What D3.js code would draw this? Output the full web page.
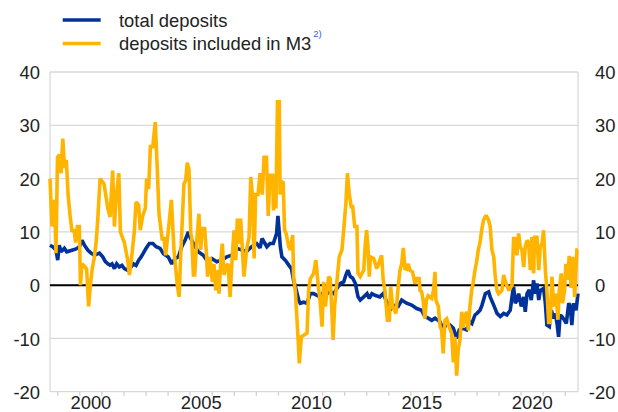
<!DOCTYPE html>
<html>
<head>
<meta charset="utf-8">
<script src="https://cdnjs.cloudflare.com/ajax/libs/d3/7.8.5/d3.min.js"></script>
<style>
  body { margin: 0; background: #fff; }
  svg { display: block; font-family: "Liberation Sans", Arial, sans-serif; }
</style>
</head>
<body>
<svg id="chart" width="618" height="412"></svg>
<script>
// annual growth rates, decimal year -> percent
var totalDeposits = [
  [1998.67,7.5],[1998.79,7.2],[1998.94,6.6],[1999.02,4.7],[1999.09,7.5],[1999.17,6.25],[1999.32,6.9],[1999.43,6.25],
  [1999.55,6.4],[1999.70,6.6],[1999.85,6.8],[2000.00,7.2],[2000.12,8.4],[2000.23,7.5],[2000.38,6.6],[2000.53,6],
  [2000.68,5.6],[2000.91,6],[2001.06,5.3],[2001.18,4.4],[2001.29,4],[2001.39,3.75],[2001.48,4],[2001.59,3.1],
  [2001.69,4],[2001.81,3.4],[2001.93,3.7],[2002.04,3.1],[2002.19,2.8],[2002.34,3.4],[2002.45,4],[2002.57,3.7],
  [2002.69,4.7],[2002.80,5.3],[2002.90,6],[2003.02,6.9],[2003.17,7.8],[2003.33,7.8],[2003.48,7.2],[2003.66,6.9],
  [2003.81,5.9],[2004.03,5.3],[2004.19,4],[2004.34,5],[2004.49,5.3],[2004.64,7.2],[2004.79,8.4],[2004.94,10],
  [2005.02,9],[2005.17,7.8],[2005.39,6.25],[2005.62,5.6],[2005.77,4.7],[2006.00,5],[2006.23,4.4],[2006.45,4.7],
  [2006.68,5.3],[2006.91,5.6],[2007.13,6.9],[2007.36,6.6],[2007.58,6.3],[2007.81,7.2],[2008.04,7.8],[2008.19,7],
  [2008.28,8.75],[2008.50,7.2],[2008.64,7.8],[2008.79,7.8],[2008.94,9.7],[2009.00,13],[2009.11,7.2],[2009.18,5.3],
  [2009.33,4.7],[2009.49,3.75],[2009.61,3.1],[2009.71,0.9],[2009.79,-0.3],[2009.94,-2.8],[2010.01,-3.4],[2010.17,-3.2],
  [2010.32,-3.4],[2010.47,-1.6],[2010.62,-1.6],[2010.77,-1.9],[2010.92,-2.2],[2011.07,-1.3],[2011.22,-1.6],[2011.37,-1.25],
  [2011.53,-1.6],[2011.68,-0.6],[2011.83,0.3],[2011.98,0.6],[2012.08,1.9],[2012.17,2.8],[2012.28,1.6],[2012.39,1.3],
  [2012.51,0.3],[2012.63,-2.2],[2012.73,-2.8],[2012.89,-2.2],[2013.04,-1.6],[2013.14,-2.5],[2013.26,-1.6],[2013.40,-1.9],
  [2013.62,-2.2],[2013.77,-1.6],[2013.93,-3.1],[2014.08,-4.7],[2014.23,-3.8],[2014.45,-4],[2014.61,-2.8],[2014.83,-3.4],
  [2015.06,-3.75],[2015.29,-4.4],[2015.51,-4.7],[2015.66,-5.9],[2015.81,-6.2],[2015.97,-6.6],[2016.12,-6.2],[2016.35,-6.9],
  [2016.49,-8.4],[2016.65,-7.2],[2016.80,-7.5],[2016.95,-8.1],[2017.10,-10],[2017.22,-8.4],[2017.40,-8.1],[2017.55,-8.4],
  [2017.70,-6.9],[2017.79,-7.2],[2017.93,-5.6],[2018.02,-5.3],[2018.16,-4.7],[2018.25,-3.75],[2018.40,-1.6],[2018.55,-1.25],
  [2018.62,-2.2],[2018.78,-3.75],[2018.93,-5.3],[2019.08,-5.9],[2019.23,-5.3],[2019.38,-5.6],[2019.53,-4.7],[2019.61,-2.2],
  [2019.68,-0.3],[2019.76,-3.4],[2019.83,-2.8],[2019.91,-1.6],[2020.03,-4],[2020.14,-2.2],[2020.21,-5],[2020.29,-1.6],
  [2020.39,-0.9],[2020.48,-2.8],[2020.59,0.9],[2020.66,-1.6],[2020.74,0.3],[2020.82,-2.8],[2020.89,-1],[2021.04,-0.6],
  [2021.12,-3.4],[2021.19,-7.5],[2021.30,-7.8],[2021.39,-4.7],[2021.50,-6.25],[2021.57,-5.3],[2021.65,-7.2],[2021.72,-9.7],
  [2021.79,-5.6],[2021.87,-5.9],[2021.99,-6.6],[2022.07,-7.2],[2022.18,-3.4],[2022.25,-4],[2022.32,-7.5],[2022.40,-3.4],
  [2022.51,-4.7],[2022.60,-1.6]
];

var depositsM3 = [
  [1998.67,20],[1998.76,11],[1998.88,16],[1998.94,6],[1999.01,24],[1999.10,24.5],[1999.17,21],[1999.25,27.5],
  [1999.33,22],[1999.41,23.5],[1999.49,17],[1999.58,13],[1999.67,10],[1999.76,10.5],[1999.83,8],[1999.91,11],
  [2000.00,11],[2000.05,0],[2000.12,4],[2000.24,3.5],[2000.33,3],[2000.42,-4],[2000.50,0],[2000.58,3],
  [2000.67,5],[2000.76,8],[2000.83,12],[2000.94,20],[2001.12,19],[2001.29,14.4],[2001.39,12.8],[2001.51,21.5],
  [2001.59,11],[2001.66,16],[2001.79,21],[2001.86,10],[2002.04,8],[2002.19,4.7],[2002.27,1.9],[2002.39,6],
  [2002.49,10],[2002.57,15.6],[2002.69,15],[2002.76,10.3],[2002.87,13],[2002.99,14.4],[2003.05,20],[2003.14,18],
  [2003.22,26],[2003.33,26],[2003.44,30.6],[2003.53,22],[2003.61,13.4],[2003.76,8.4],[2003.84,9],[2003.91,5.6],
  [2004.02,9.7],[2004.17,16],[2004.29,6.6],[2004.44,0],[2004.52,-2.2],[2004.59,5.3],[2004.74,19],[2004.82,19.7],
  [2004.89,23],[2004.97,21.6],[2005.05,9.7],[2005.09,9],[2005.17,1.9],[2005.23,1.9],[2005.32,8.4],[2005.42,13.4],
  [2005.50,6.6],[2005.57,10.6],[2005.68,10.6],[2005.77,5.3],[2005.81,1.6],[2005.92,5.3],[2006.03,0.6],[2006.10,4],
  [2006.18,-1],[2006.25,2.8],[2006.33,-1.6],[2006.41,4.7],[2006.48,7.8],[2006.56,1.9],[2006.63,3.4],[2006.74,4],
  [2006.83,-2.2],[2006.93,5.3],[2007.01,10.3],[2007.09,4.7],[2007.16,12.5],[2007.24,7.8],[2007.31,12.5],[2007.39,6.6],
  [2007.46,1.6],[2007.58,6.6],[2007.69,9],[2007.77,20.3],[2007.84,17],[2007.92,5],[2007.99,17],[2008.10,17],
  [2008.19,21],[2008.29,17],[2008.37,24],[2008.48,24],[2008.56,13],[2008.64,20.6],[2008.76,20.6],[2008.80,14],
  [2008.87,20.6],[2008.91,14.4],[2008.98,34.4],[2009.06,34.4],[2009.10,17],[2009.17,19.4],[2009.24,19.2],[2009.30,10.3],
  [2009.37,9.7],[2009.49,7.2],[2009.56,6.6],[2009.67,9.4],[2009.71,1.6],[2009.79,-1.2],[2009.91,-9.7],[2009.97,-14.7],
  [2010.06,-9.7],[2010.17,-9.4],[2010.32,-9],[2010.39,-1],[2010.47,1.2],[2010.62,2.2],[2010.72,4.7],[2010.82,0.3],
  [2010.92,-3.4],[2011.00,-7.8],[2011.07,0.6],[2011.15,-4],[2011.22,-1.2],[2011.30,1.6],[2011.37,1.2],[2011.45,-5.3],
  [2011.50,-10.3],[2011.57,-4],[2011.68,1],[2011.78,5.3],[2011.90,6.6],[2011.98,10.3],[2012.08,15.3],[2012.15,21],
  [2012.23,17.2],[2012.32,14.7],[2012.39,14.7],[2012.48,11],[2012.58,11],[2012.63,2.2],[2012.73,1.6],[2012.89,2.8],
  [2012.96,7.8],[2013.02,10.3],[2013.08,7.2],[2013.14,1.6],[2013.19,5.3],[2013.34,5],[2013.48,3.1],[2013.70,5.6],
  [2013.77,1],[2013.85,-1],[2013.96,-6.6],[2014.05,-6.6],[2014.11,-0.3],[2014.20,-4],[2014.35,-5.3],[2014.45,-0.3],
  [2014.53,2.8],[2014.61,4],[2014.68,7],[2014.76,3.1],[2014.83,3],[2014.91,4],[2014.98,2.8],[2015.10,2.5],
  [2015.21,0.3],[2015.29,1.25],[2015.40,1.25],[2015.44,-1],[2015.51,-1.2],[2015.58,-2.8],[2015.66,-6.3],[2015.73,-2.8],
  [2015.81,-2],[2015.97,-2.5],[2016.05,-1],[2016.12,2.5],[2016.16,-2.8],[2016.27,-4],[2016.35,-7.8],[2016.42,-8.4],
  [2016.49,-12.8],[2016.57,-6.6],[2016.65,-6.3],[2016.76,-7.8],[2016.87,-9],[2016.95,-14.5],[2017.02,-9.7],[2017.10,-17],
  [2017.17,-12.2],[2017.25,-10.3],[2017.33,-5],[2017.40,-8],[2017.47,-6],[2017.55,-5],[2017.63,-8.5],[2017.70,-4],
  [2017.78,-1],[2017.85,0.5],[2017.93,2.8],[2018.01,4.5],[2018.08,6.6],[2018.16,8],[2018.24,10.5],[2018.32,12.2],
  [2018.43,13.1],[2018.55,12.2],[2018.62,11],[2018.70,6.6],[2018.78,5.3],[2018.85,1.6],[2018.93,-1],[2019.00,-1.6],
  [2019.15,-1],[2019.23,1.9],[2019.30,0.8],[2019.46,-1],[2019.61,0],[2019.68,8.75],[2019.76,8.75],[2019.83,5.6],
  [2019.91,9.7],[2019.98,7.2],[2020.06,6.6],[2020.14,3.4],[2020.21,7.2],[2020.29,8.4],[2020.36,8],[2020.44,2.8],
  [2020.51,9],[2020.59,2.2],[2020.63,9],[2020.74,9],[2020.82,2.8],[2020.89,7.2],[2020.97,7.8],[2021.04,10.3],
  [2021.12,2.8],[2021.19,-1],[2021.27,-7],[2021.34,-7],[2021.42,1.6],[2021.50,-4],[2021.60,-1.6],[2021.69,-6.5],
  [2021.75,-1],[2021.84,2.2],[2021.90,-3.4],[2021.99,-1],[2022.05,4],[2022.14,1],[2022.20,5.5],[2022.29,-0.5],
  [2022.36,5.3],[2022.45,-2.2],[2022.55,6.6],[2022.60,6.6]
];

var yTicks = [-20, -10, 0, 10, 20, 30, 40];
var tickYears = d3.range(1999, 2023);
var labelYears = [2000, 2005, 2010, 2015, 2020];
var seriesNames = ["total deposits", "deposits included in M3"];
var seriesColors = ["#003299", "#ffb400"];
var footnote = "2)";

var svg = d3.select("#chart"),
  margin = { top: 72, right: 40, bottom: 20.3, left: 50 },
  width = +svg.attr("width") - margin.left - margin.right,
  height = +svg.attr("height") - margin.top - margin.bottom,
  g = svg.append("g").attr("transform", "translate(" + margin.left + "," + margin.top + ")");

var x = d3.scaleLinear()
  .domain([1998.67, 2022.6])
  .range([0, width]);

var y = d3.scaleLinear()
  .domain([-20, 40])
  .range([height, 0]);

// plain hyphen for negatives, like the original
var fmt = d => String(d);

// grid + frame
g.selectAll(".grid")
  .data(yTicks)
  .enter().append("line")
    .attr("x1", 0)
    .attr("x2", width)
    .attr("y1", d => y(d))
    .attr("y2", d => y(d))
    .attr("stroke", "#d9d9d9")
    .attr("stroke-width", 1.3);

g.selectAll(".frame")
  .data([0, width])
  .enter().append("line")
    .attr("x1", d => d)
    .attr("x2", d => d)
    .attr("y1", 0)
    .attr("y2", height)
    .attr("stroke", "#d9d9d9")
    .attr("stroke-width", 1.3);

var styleAxis = function(sel) {
  sel.select(".domain").remove();
  sel.selectAll("text")
    .attr("fill", "#222")
    .style("font-size", "18.4px")
    .style("font-family", "'Liberation Sans', Arial, sans-serif");
};

g.append("g")
  .call(d3.axisLeft(y).tickValues(yTicks).tickFormat(fmt).tickSize(0).tickPadding(10))
  .call(styleAxis)
  .selectAll("text").attr("dy", "0.36em");

// right labels: digits line up, minus sign hangs to the left
g.append("g")
  .attr("transform", "translate(" + width + ",0)")
  .call(d3.axisRight(y).tickValues(yTicks).tickFormat(fmt).tickSize(0).tickPadding(17))
  .call(styleAxis)
  .selectAll("text")
    .attr("dy", "0.36em")
    .attr("dx", d => d < 0 ? "-0.333em" : 0);

// year ticks below the frame
g.append("g")
  .attr("transform", "translate(0," + height + ")")
  .call(d3.axisBottom(x).tickValues(tickYears).tickSize(4).tickFormat(""))
  .call(function(sel) {
    sel.select(".domain").remove();
    sel.selectAll("line").attr("stroke", "#d0d0d0").attr("stroke-width", 1.3);
  });

// year labels sit mid-year
g.append("g")
  .attr("transform", "translate(0," + height + ")")
  .call(d3.axisBottom(x)
    .tickValues(labelYears.map(d => d + 0.5))
    .tickSize(0)
    .tickPadding(4)
    .tickFormat(d => Math.floor(d)))
  .call(styleAxis);

g.append("line")
  .attr("x1", 0)
  .attr("x2", width)
  .attr("y1", y(0))
  .attr("y2", y(0))
  .attr("stroke", "#000")
  .attr("stroke-width", 2);

var line = d3.line()
  .x(d => x(d[0]))
  .y(d => y(d[1]));

[totalDeposits, depositsM3].forEach(function(series, i) {
  g.append("path")
    .attr("fill", "none")
    .attr("stroke", seriesColors[i])
    .attr("stroke-width", 3.6)
    .attr("stroke-linejoin", "miter")
    .attr("stroke-miterlimit", 2)
    .attr("d", line(series));
});

// legend
var legend = svg.append("g").attr("transform", "translate(62.7,20)");

seriesNames.forEach(function(name, i) {
  var row = legend.append("g").attr("transform", "translate(0," + (i * 23.5) + ")");
  row.append("line")
    .attr("x1", 0)
    .attr("x2", 38)
    .attr("stroke", seriesColors[i])
    .attr("stroke-width", 3.5);
  var t = row.append("text")
    .attr("x", 56.3)
    .attr("y", 6.7)
    .attr("fill", "#222")
    .style("font-size", "18.4px")
    .text(name);
  if (i === 1) {
    t.append("tspan")
      .attr("dx", 2)
      .attr("dy", -13)
      .attr("fill", "#2f5fd0")
      .style("font-size", "9.5px")
      .text(footnote);
  }
});
</script>
</body>
</html>
